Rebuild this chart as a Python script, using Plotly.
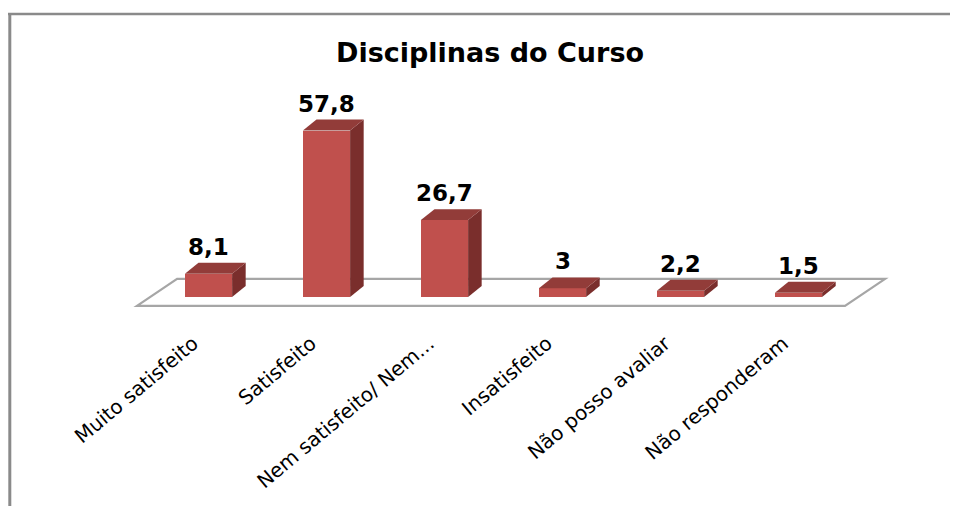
import numpy as np
import plotly.graph_objects as go

categories = ["Muito satisfeito", "Satisfeito", "Nem satisfeito/ Nem...",
              "Insatisfeito", "Não posso avaliar", "Não responderam"]
values = [8.1, 57.8, 26.7, 3, 2.2, 1.5]
value_labels = ["8,1", "57,8", "26,7", "3", "2,2", "1,5"]
title_text = "Disciplinas do Curso"

# style constants
FRONT = "#C0504D"
SIDE = "#7A2E2C"
TOP = "#923C39"
BAR_W = 0.40
DEPTH_X = 0.115     # bar depth (category units)
DEPTH_Y = 3.8       # bar depth (value units)
FLOOR_FRONT = -3.1
FLOOR_DX = 0.34
FLOOR_DY = 9.4
FLOOR_PAD_L = 0.606
FLOOR_PAD_R = 0.394
FONT = "DejaVu Sans"

# page body has an 8px margin; figure is sized to fill the rest of the window
W, H = 950, 498
PLOT_BOTTOM = 319          # figure px of the plot-area bottom

pos = np.arange(len(categories), dtype=float)
vals = np.array(values, dtype=float)

fig = go.Figure()

# front faces
fig.add_trace(go.Bar(x=pos, y=vals, width=BAR_W, marker=dict(color=FRONT, line=dict(width=0)),
                     showlegend=False, hoverinfo="x+y"))

# side and top faces
for x, v in zip(pos, vals):
    r = x + BAR_W / 2
    l = x - BAR_W / 2
    fig.add_trace(go.Scatter(
        x=[r, r + DEPTH_X, r + DEPTH_X, r, r],
        y=[0, DEPTH_Y, v + DEPTH_Y, v, 0],
        fill="toself", fillcolor=SIDE, mode="lines", line=dict(width=0, color=SIDE),
        hoverinfo="skip", showlegend=False))
    fig.add_trace(go.Scatter(
        x=[l, l + DEPTH_X, r + DEPTH_X, r, l],
        y=[v, v + DEPTH_Y, v + DEPTH_Y, v, v],
        fill="toself", fillcolor=TOP, mode="lines", line=dict(width=0, color=TOP),
        hoverinfo="skip", showlegend=False))

annotations = []
for x, v, t in zip(pos, vals, value_labels):
    annotations.append(dict(x=x, y=v + DEPTH_Y, text=t, showarrow=False,
                            xanchor="center", yanchor="bottom", yshift=1,
                            font=dict(family=FONT, size=23, color="black", weight="bold")))

annotations.append(dict(xref="paper", yref="paper", x=482 / W, y=(PLOT_BOTTOM - 44) / PLOT_BOTTOM,
                        text=title_text, showarrow=False, xanchor="center", yanchor="middle",
                        font=dict(family=FONT, size=27, color="black", weight="bold")))

# floor (parallelogram) drawn beneath the bars
fl = pos[0] - FLOOR_PAD_L
fr = pos[-1] + FLOOR_PAD_R
floor_path = (f"M {fl},{FLOOR_FRONT} L {fr},{FLOOR_FRONT} "
              f"L {fr + FLOOR_DX},{FLOOR_FRONT + FLOOR_DY} L {fl + FLOOR_DX},{FLOOR_FRONT + FLOOR_DY} Z")

shapes = [
    dict(type="path", xref="x", yref="y", path=floor_path, layer="below",
         fillcolor="white", line=dict(color="#A6A6A6", width=2.2)),
    dict(type="line", xref="paper", yref="paper", x0=0, x1=1,
         y0=(PLOT_BOTTOM - 6) / PLOT_BOTTOM, y1=(PLOT_BOTTOM - 6) / PLOT_BOTTOM,
         line=dict(color="#8A8A8A", width=2.5)),
    dict(type="line", xref="paper", yref="paper", x0=1.8 / W, x1=1.8 / W,
         y0=(PLOT_BOTTOM - 5) / PLOT_BOTTOM, y1=(PLOT_BOTTOM - 520) / PLOT_BOTTOM,
         line=dict(color="#8A8A8A", width=3)),
]

x0_px = 200.5
px_per_cat = 118.0
y0_px = 289.0
px_per_unit = 2.88
xa = -x0_px / px_per_cat
xb = xa + W / px_per_cat
ya = -(PLOT_BOTTOM - y0_px) / px_per_unit
yb = y0_px / px_per_unit

fig.update_layout(
    width=W, height=H,
    margin=dict(l=0, r=0, t=0, b=H - PLOT_BOTTOM),
    paper_bgcolor="white", plot_bgcolor="white",
    bargap=0,
    xaxis=dict(range=[xa, xb], showgrid=False, zeroline=False, showline=False,
               tickmode="array", tickvals=pos - 0.13, ticktext=categories,
               tickangle=-40, ticks="", tickfont=dict(family=FONT, size=20, color="black"),
               fixedrange=True),
    yaxis=dict(range=[ya, yb], visible=False, fixedrange=True),
    annotations=annotations,
    shapes=shapes,
)

fig.write_html("out.html")
